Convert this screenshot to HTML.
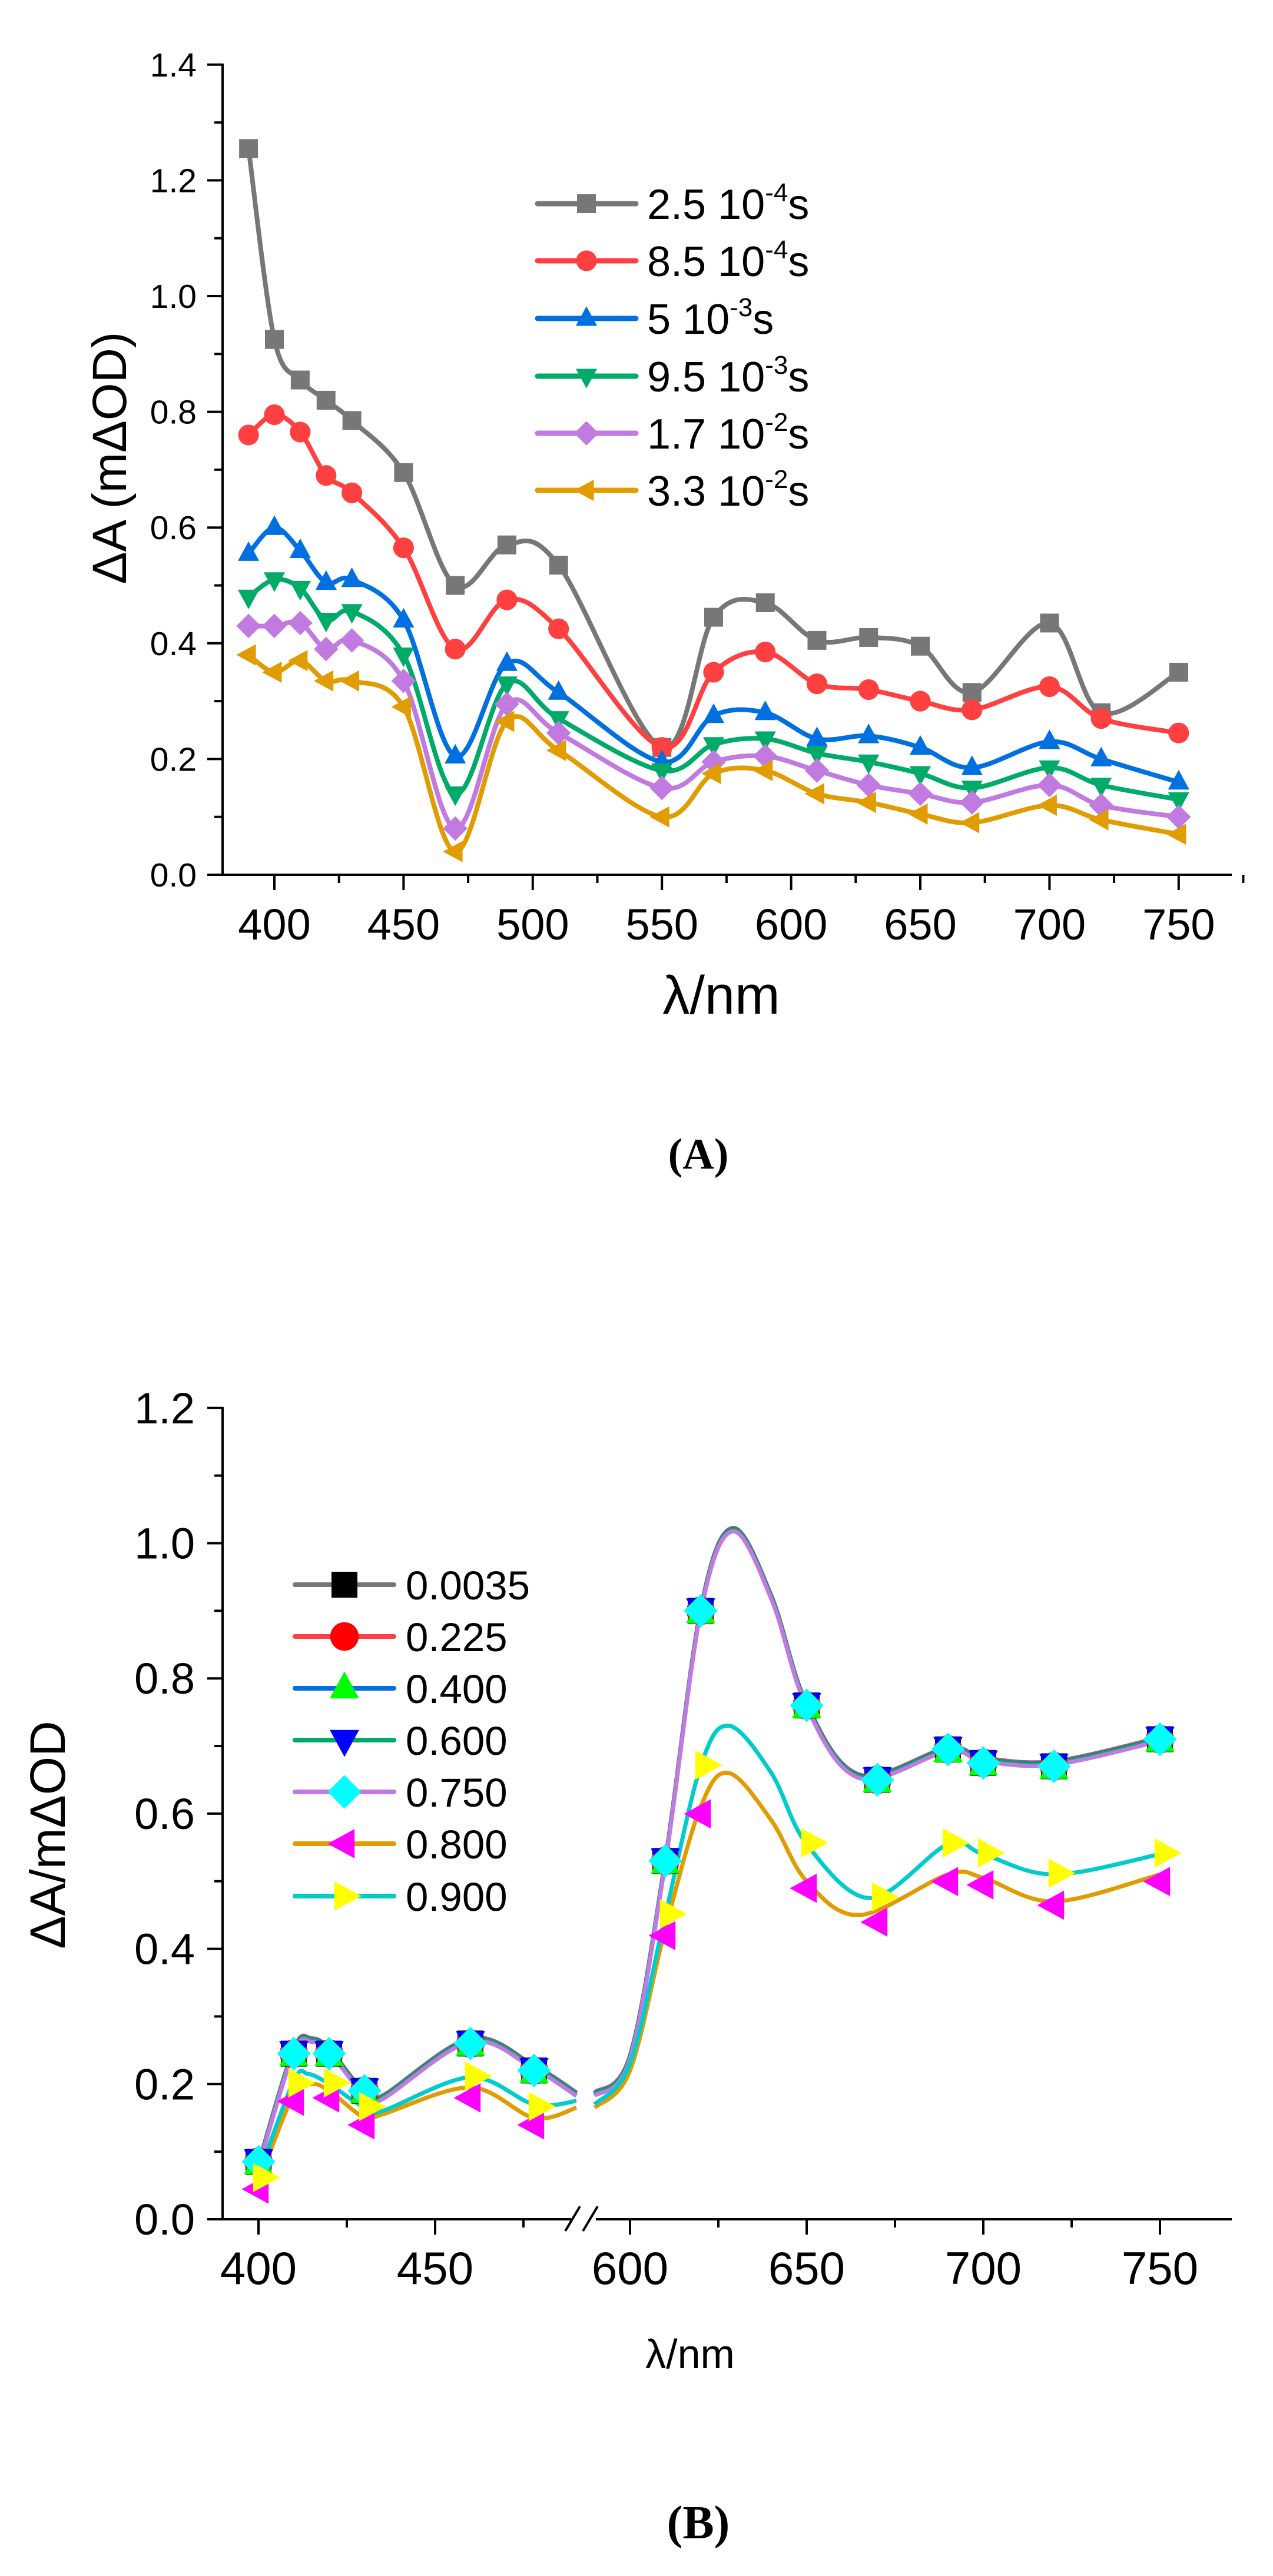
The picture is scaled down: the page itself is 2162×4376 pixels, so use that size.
<!DOCTYPE html>
<html><head><meta charset="utf-8"><style>
html,body{margin:0;padding:0;background:#fff;}
svg{display:block;}
text{font-family:"Liberation Sans",sans-serif;fill:#000;}
</style></head><body>
<svg id="s" width="2162" height="4376" xmlns="http://www.w3.org/2000/svg"></svg>
<script>
var S=document.getElementById('s');var h='';
function cr(p){
 var d='M'+p[0][0].toFixed(1)+','+p[0][1].toFixed(1);
 for(var i=0;i<p.length-1;i++){var p0=p[i-1]||p[i],p1=p[i],p2=p[i+1],p3=p[i+2]||p[i+1];
  d+=' C'+(p1[0]+(p2[0]-p0[0])/6).toFixed(1)+','+(p1[1]+(p2[1]-p0[1])/6).toFixed(1)+' '+(p2[0]-(p3[0]-p1[0])/6).toFixed(1)+','+(p2[1]-(p3[1]-p1[1])/6).toFixed(1)+' '+p2[0].toFixed(1)+','+p2[1].toFixed(1);}
 return d;}
function mk(t,x,y,r,c){
 if(t=='sq')return '<rect x="'+(x-r)+'" y="'+(y-r)+'" width="'+2*r+'" height="'+2*r+'" fill="'+c+'"/>';
 if(t=='ci')return '<circle cx="'+x+'" cy="'+y+'" r="'+r*1.1+'" fill="'+c+'"/>';
 var R=r*1.3,pts;
 if(t=='up')pts=[[x,y-R],[x+R*0.87,y+R*0.6],[x-R*0.87,y+R*0.6]];
 if(t=='dn')pts=[[x,y+R],[x+R*0.87,y-R*0.6],[x-R*0.87,y-R*0.6]];
 if(t=='lf')pts=[[x-R,y],[x+R*0.6,y-R*0.87],[x+R*0.6,y+R*0.87]];
 if(t=='rt')pts=[[x+R,y],[x-R*0.6,y-R*0.87],[x-R*0.6,y+R*0.87]];
 if(t=='di')pts=[[x,y-R],[x+R,y],[x,y+R],[x-R,y]];
 return '<polygon points="'+pts.map(function(q){return q[0].toFixed(1)+','+q[1].toFixed(1)}).join(' ')+'" fill="'+c+'"/>';}
var ax=function(n){return 466+(n-400)*219.4/50},ay=function(v){return 1486-v*983};
h+='<line x1="378" y1="108" x2="378" y2="1488" stroke="#000" stroke-width="4"/><line x1="376" y1="1486" x2="2092" y2="1486" stroke="#000" stroke-width="4"/>';
for(var v=0;v<=1.41;v+=0.1){var y=ay(v),maj=Math.round(v*10)%2==0;h+='<line x1="'+(maj?352:364)+'" y1="'+y+'" x2="378" y2="'+y+'" stroke="#000" stroke-width="4"/>';
 if(maj)h+='<text x="334" y="'+(y+20)+'" font-size="57" text-anchor="end">'+v.toFixed(1)+'</text>';}
for(var n=375;n<=775;n+=25){var x=ax(n),maj=n%50==0;if(x<380)continue;h+='<line x1="'+x+'" y1="1486" x2="'+x+'" y2="'+(maj?1512:1500)+'" stroke="#000" stroke-width="4"/>';
 if(maj)h+='<text x="'+x+'" y="1596" font-size="74" text-anchor="middle">'+n+'</text>';}
h+='<text x="1225" y="1722" font-size="92" text-anchor="middle">λ/nm</text>';
h+='<text transform="translate(214,778) rotate(-90)" font-size="82" text-anchor="middle">ΔA (mΔOD)</text>';
var XA=[390,400,410,420,430,450,470,490,510,550,570,590,610,630,650,670,700,720,750];
var A=[
['#777777','#777777','sq',[1.255,.925,.855,.82,.785,.695,.50,.57,.535,.22,.445,.47,.405,.41,.395,.315,.435,.28,.35],'2.5 10','-4'],
['#ff4040','#ff4040','ci',[.76,.795,.765,.69,.66,.565,.39,.475,.425,.22,.35,.385,.33,.32,.30,.285,.325,.27,.245],'8.5 10','-4'],
['#0070e0','#0070e0','up',[.555,.60,.56,.505,.51,.44,.205,.365,.315,.195,.275,.28,.235,.24,.22,.185,.23,.20,.16],'5 10','-3'],
['#00ab6a','#00ab6a','dn',[.48,.51,.495,.44,.455,.38,.14,.33,.27,.18,.225,.235,.21,.195,.175,.15,.185,.155,.13],'9.5 10','-3'],
['#c07ae0','#c07ae0','di',[.43,.43,.435,.39,.405,.335,.08,.295,.245,.15,.195,.205,.18,.155,.14,.125,.155,.12,.10],'1.7 10','-2'],
['#e09c00','#e09c00','lf',[.38,.35,.37,.335,.335,.29,.04,.265,.215,.10,.175,.18,.14,.125,.105,.09,.12,.095,.07],'3.3 10','-2']];
var ly=[346,443,541,639,736,833];
A.forEach(function(s,k){var p=XA.map(function(n,i){return [ax(n),ay(s[3][i])]});
 h+='<path d="'+cr(p)+'" fill="none" stroke="'+s[0]+'" stroke-width="8"/>';
 p.forEach(function(q){h+=mk(s[2],q[0],q[1],16,s[1])});
 h+='<line x1="913" y1="'+ly[k]+'" x2="1080" y2="'+ly[k]+'" stroke="'+s[0]+'" stroke-width="9" stroke-linecap="round"/>'+mk(s[2],996,ly[k],16,s[1]);
 h+='<text x="1099" y="'+(ly[k]+26)+'" font-size="72">'+s[4]+'<tspan font-size="44" dy="-30">'+s[5]+'</tspan><tspan dy="30">s</tspan></text>';});
h+='<text x="1186" y="1985" font-size="74" text-anchor="middle" style="font-family:\'Liberation Serif\',serif;font-weight:bold">(A)</text>';
var bx=function(n){return n<550?439+(n-400)*6:1070+(n-600)*6},by=function(v){return 3770-v*1148.5};
h+='<line x1="378" y1="2390" x2="378" y2="3772" stroke="#000" stroke-width="4"/><line x1="376" y1="3770" x2="970" y2="3770" stroke="#000" stroke-width="4"/><line x1="1012" y1="3770" x2="2092" y2="3770" stroke="#000" stroke-width="4"/>';
h+='<line x1="960" y1="3790" x2="985" y2="3748" stroke="#000" stroke-width="4"/><line x1="990" y1="3790" x2="1015" y2="3748" stroke="#000" stroke-width="4"/>';
for(var v=0;v<=1.21;v+=0.1){var y=by(v),maj=Math.round(v*10)%2==0;h+='<line x1="'+(maj?352:364)+'" y1="'+y+'" x2="378" y2="'+y+'" stroke="#000" stroke-width="4"/>';
 if(maj)h+='<text x="331" y="'+(y+26)+'" font-size="74" text-anchor="end">'+v.toFixed(1)+'</text>';}
[400,425,450,475,625,650,675,700,725,750,600].forEach(function(n){var x=bx(n),maj=n%50==0;h+='<line x1="'+x+'" y1="3770" x2="'+x+'" y2="'+(maj?3796:3784)+'" stroke="#000" stroke-width="4"/>';
 if(maj)h+='<text x="'+x+'" y="3880" font-size="78" text-anchor="middle">'+n+'</text>';});
h+='<text x="1172" y="4023" font-size="70" text-anchor="middle">λ/nm</text>';
h+='<text transform="translate(110,3117) rotate(-90)" font-size="84" text-anchor="middle">ΔA/mΔOD</text>';
var G1L=[[400,.08],[410,.25],[415,.265],[420,.25],[430,.185],[435,.18],[460,.265],[478,.225],[490,.185]];
var G1R=[[590,.185],[600,.24],[610,.53],[620,.90],[629,1.02],[640,.92],[650,.76],[665,.655],[690,.695],[700,.68],[720,.675],[750,.71]];
var G2L=[[400,.055],[410,.185],[415,.20],[420,.19],[430,.15],[435,.155],[460,.195],[478,.15],[490,.165]];
var G2R=[[590,.165],[600,.22],[610,.43],[620,.61],[628,.66],[640,.59],[650,.50],[665,.45],[690,.51],[700,.505],[720,.47],[750,.51]];
var G3L=[[400,.065],[410,.205],[414,.215],[420,.20],[430,.165],[435,.16],[460,.21],[478,.17],[490,.175]];
var G3R=[[590,.17],[600,.23],[610,.45],[620,.67],[628,.73],[640,.66],[650,.555],[668,.475],[690,.555],[700,.54],[720,.51],[750,.54]];
var M1=[[400,.085],[410,.245],[420,.245],[430,.19],[460,.26],[478,.22],[610,.53],[620,.90],[650,.76],[670,.65],[690,.695],[700,.675],[720,.67],[750,.71]];
var M2=[[400,.055],[410,.185],[420,.19],[430,.15],[460,.19],[478,.15],[610,.43],[620,.61],[650,.50],[670,.45],[690,.51],[700,.505],[720,.475],[750,.51]];
var M3=[[400,.06],[410,.20],[420,.20],[430,.165],[460,.21],[478,.165],[610,.45],[620,.67],[650,.555],[670,.475],[690,.555],[700,.54],[720,.51],[750,.54]];
function P(a,dy){return a.map(function(q){return [bx(q[0]),by(q[1])+dy]})}
var B=[
['#777777','#000000','sq',G1L,G1R,M1,-3,'0.0035'],
['#ff4040','#ff0000','ci',G1L,G1R,M1,-2,'0.225'],
['#0070e0','#00ff00','up',G1L,G1R,M1,-1,'0.400'],
['#00ab6a','#0000ff','dn',G1L,G1R,M1,0,'0.600'],
['#c07ae0','#00ffff','di',G1L,G1R,M1,3,'0.750'],
['#e09c00','#ff00ff','lf',G2L,G2R,M2,0,'0.800'],
['#00cccc','#ffff00','rt',G3L,G3R,M3,0,'0.900']];
var lyb=[2692,2780,2868,2956,3044,3132,3221];
B.forEach(function(s){h+='<path d="'+cr(P(s[3],s[6]))+'" fill="none" stroke="'+s[0]+'" stroke-width="7"/><path d="'+cr(P(s[4],s[6]))+'" fill="none" stroke="'+s[0]+'" stroke-width="7"/>';});
B.forEach(function(s,k){P(s[5],0).forEach(function(q){var dx=0,dy=0;if(s[2]=='up')dy=4;if(s[2]=='dn')dy=-4;if(s[2]=='lf')dy=12;if(s[2]=='rt'){dx=8;dy=-2;}h+=mk(s[2],q[0]+dx,q[1]+dy,22,s[1])});});
B.forEach(function(s,k){var y=lyb[k];h+='<line x1="501" y1="'+y+'" x2="669" y2="'+y+'" stroke="'+s[0]+'" stroke-width="8" stroke-linecap="round"/>'+mk(s[2],585,y,22,s[1]);
 h+='<text x="689" y="'+(y+25)+'" font-size="69">'+s[7]+'</text>';});
h+='<text x="1186" y="4312" font-size="80" text-anchor="middle" style="font-family:\'Liberation Serif\',serif;font-weight:bold">(B)</text>';
S.innerHTML=h;
</script>
</body></html>
